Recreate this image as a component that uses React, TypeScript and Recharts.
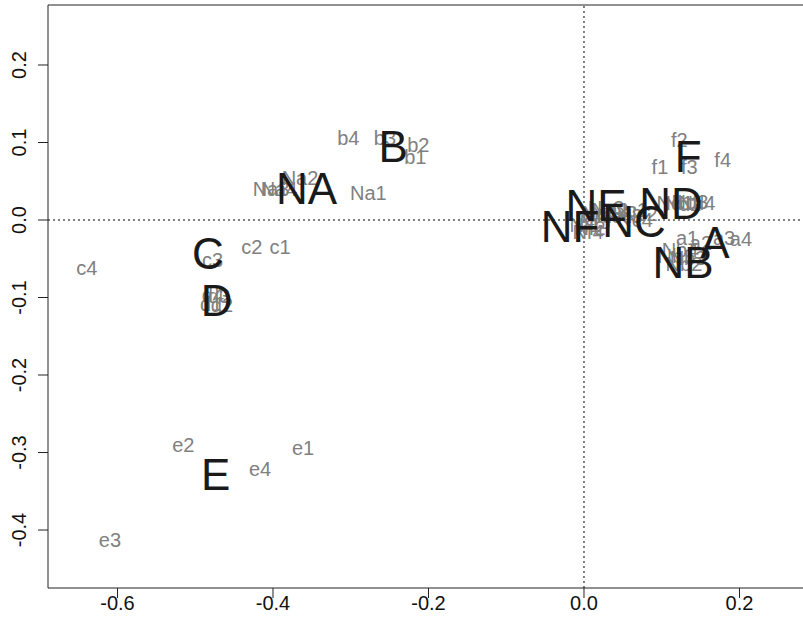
import React from "react";
import { ScatterChart, Scatter, XAxis, YAxis, ReferenceLine } from "recharts";

// Category (column) labels
const catLabels = ["A", "B", "C", "D", "E", "F", "NA", "NB", "NC", "ND", "NE", "NF"];
const catX = [0.1685, -0.2453, -0.4836, -0.4724, -0.4736, 0.1341, -0.3567, 0.1273, 0.0643, 0.1119, 0.0154, -0.018];
const catY = [-0.0284, 0.0946, -0.0426, -0.1032, -0.3277, 0.0817, 0.0409, -0.0542, -0.0013, 0.0219, 0.0194, -0.0077];

// Level labels
const levelLabels = [
  "a1", "a2", "a3", "a4",
  "b1", "b2", "b3", "b4",
  "c1", "c2", "c3", "c4",
  "d1", "d2", "d3", "d4",
  "e1", "e2", "e3", "e4",
  "f1", "f2", "f3", "f4",
  "Na1", "Na2", "Na3", "Na4",
  "Nb1", "Nb2", "Nb3", "Nb4",
  "Nc1", "Nc2", "Nc3", "Nc4",
  "Nd1", "Nd2", "Nd3", "Nd4",
  "Ne1", "Ne2", "Ne3", "Ne4",
  "Nf1", "Nf2", "Nf3", "Nf4",
];
const levelX = [
  0.1325, 0.1505, 0.1801, 0.2019,
  -0.217, -0.2131, -0.256, -0.3032,
  -0.391, -0.4274, -0.4776, -0.6396,
  -0.4797, -0.4656, -0.4694, -0.4772,
  -0.3614, -0.5154, -0.6097, -0.4166,
  0.0977, 0.1226, 0.1354, 0.1784,
  -0.2774, -0.3653, -0.4026, -0.3923,
  0.1183, 0.1286, 0.1338, 0.1235,
  0.0592, 0.0720, 0.0527, 0.0656,
  0.1170, 0.1273, 0.1363, 0.1453,
  0.0206, 0.0334, 0.0283, 0.0399,
  0.0013, 0.0077, 0.0141, 0.0051,
];
const levelY = [
  -0.0232, -0.0297, -0.0232, -0.0245,
  0.0817, 0.0968, 0.1058, 0.1054,
  -0.0345, -0.0345, -0.0516, -0.0623,
  -0.1084, -0.1097, -0.0981, -0.0968,
  -0.2942, -0.2903, -0.4129, -0.3213,
  0.0688, 0.1032, 0.0688, 0.0774,
  0.0345, 0.0538, 0.04, 0.04,
  -0.0465, -0.0568, -0.049, -0.0387,
  0.0129, 0.0077, 0.0052, 0.0,
  0.0219, 0.0206, 0.0232, 0.0219,
  0.0090, 0.0129, 0.0155, 0.0052,
  -0.0065, -0.0103, -0.0026, -0.0155,
];

const xTicks = [-0.6, -0.4, -0.2, 0.0, 0.2];
const yTicks = [-0.4, -0.3, -0.2, -0.1, 0.0, 0.1, 0.2];

const xDomain: [number, number] = [-0.6894, 0.2817];
const yDomain: [number, number] = [-0.4748, 0.2774];

const FONT = "'Liberation Sans', Arial, Helvetica, sans-serif";

const catData = catLabels.map((label, i) => ({ x: catX[i], y: catY[i], label }));
const levelData = levelLabels.map((label, i) => ({ x: levelX[i], y: levelY[i], label }));

const makeLabelShape = (fontSize: number, color: string) => (props: any) => {
  const { cx, cy, payload } = props;
  if (cx == null || cy == null) return <g />;
  return (
    <text
      x={cx}
      y={cy + 0.358 * fontSize}
      textAnchor="middle"
      fontSize={fontSize}
      fontFamily={FONT}
      fill={color}
    >
      {payload.label}
    </text>
  );
};

const XTick = (props: any) => {
  const { x, payload } = props;
  return (
    <g>
      <line x1={x} y1={588} x2={x} y2={598} stroke="#222" strokeWidth={1} />
      <text x={x} y={603 + 7.2} textAnchor="middle" fontSize={20} fontFamily={FONT} fill="#111">
        {payload.value.toFixed(1)}
      </text>
    </g>
  );
};

const YTick = (props: any) => {
  const { y, payload } = props;
  const bx = 26;
  return (
    <g>
      <line x1={38} y1={y} x2={48} y2={y} stroke="#222" strokeWidth={1} />
      <text
        x={bx}
        y={y}
        textAnchor="middle"
        fontSize={20}
        fontFamily={FONT}
        fill="#111"
        transform={`rotate(-90, ${bx}, ${y})`}
      >
        {payload.value.toFixed(1)}
      </text>
    </g>
  );
};

export default function App() {
  return (
    <div style={{ position: "absolute", left: 0, top: 0, width: 803, height: 641, background: "#fff" }}>
      <ScatterChart width={803} height={641} margin={{ top: 5, right: 0, bottom: 0, left: 0 }}>
        <XAxis
          type="number"
          dataKey="x"
          domain={xDomain}
          ticks={xTicks}
          allowDataOverflow
          height={53}
          tickLine={false}
          axisLine={{ stroke: "#222", strokeWidth: 1 }}
          tick={<XTick />}
          interval={0}
        />
        <YAxis
          type="number"
          dataKey="y"
          domain={yDomain}
          ticks={yTicks}
          allowDataOverflow
          width={48}
          tickLine={false}
          axisLine={{ stroke: "#222", strokeWidth: 1 }}
          tick={<YTick />}
          interval={0}
        />
        <ReferenceLine y={yDomain[1]} stroke="#222" strokeWidth={1} />
        <ReferenceLine x={0} stroke="#000" strokeWidth={1} strokeDasharray="2 3" />
        <ReferenceLine y={0} stroke="#000" strokeWidth={1} strokeDasharray="2 3" />
        <Scatter
          data={levelData}
          isAnimationActive={false}
          shape={makeLabelShape(20, "#808080")}
        />
        <Scatter
          data={catData}
          isAnimationActive={false}
          shape={makeLabelShape(44, "#1a1a1a")}
        />
      </ScatterChart>
    </div>
  );
}
